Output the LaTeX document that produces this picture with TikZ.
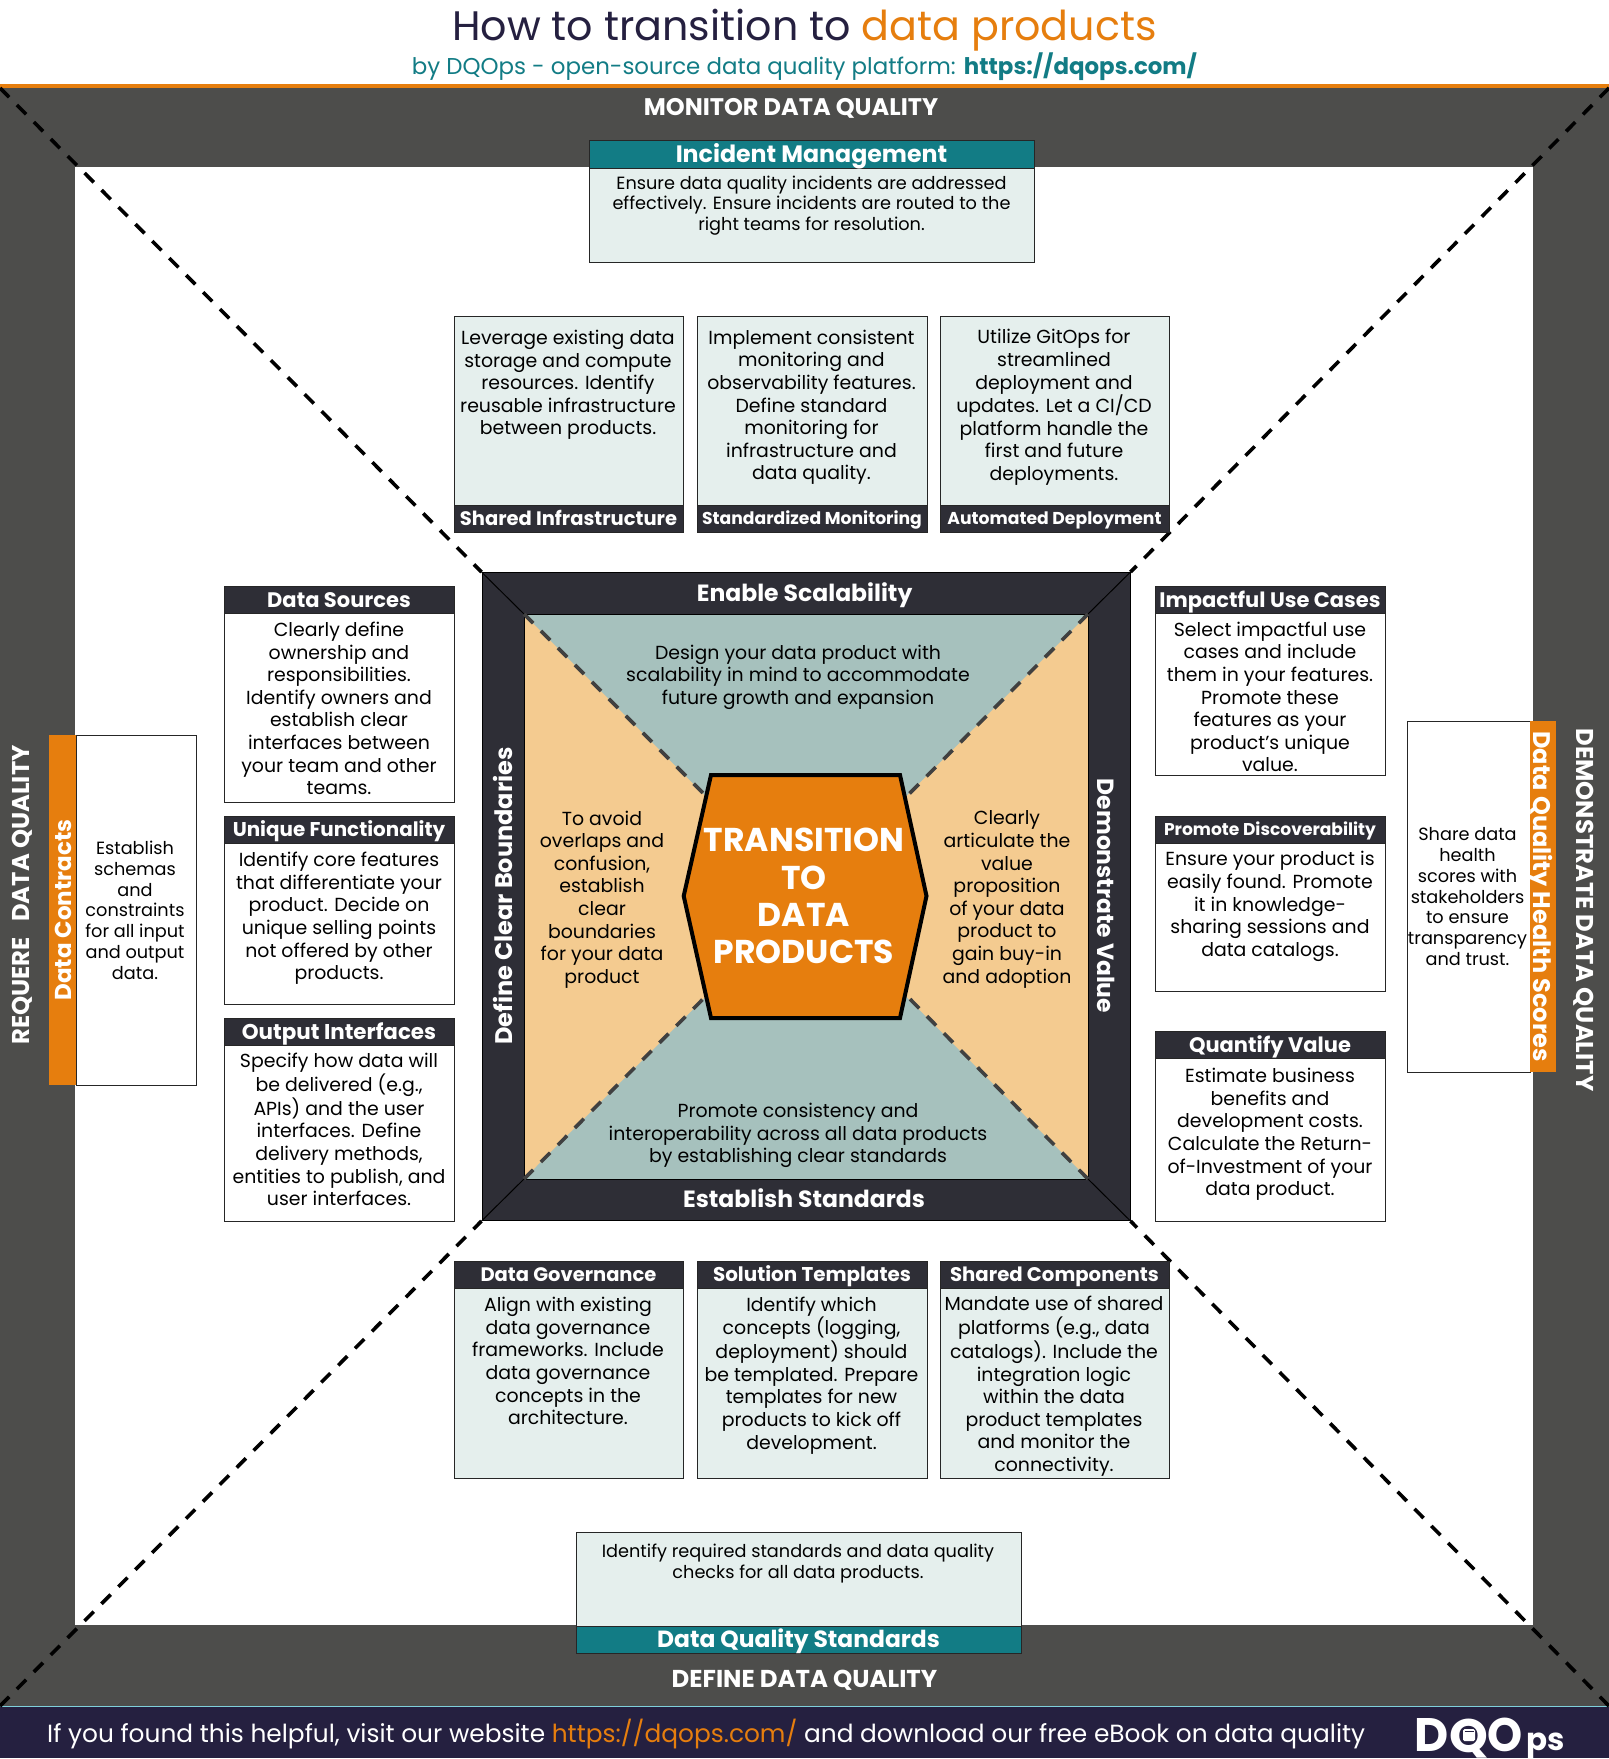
\documentclass[tikz,border=0pt]{standalone}
\usepackage{fontspec}
\setmainfont{Poppins}
\definecolor{navy}{HTML}{252040}
\definecolor{orng}{HTML}{E67E0E}
\definecolor{teal2}{HTML}{127C85}
\definecolor{cardbg}{HTML}{E5EFED}
\definecolor{band}{HTML}{4D4D4B}
\definecolor{inkbox}{HTML}{2E2E36}
\definecolor{triteal}{HTML}{A6C1BD}
\definecolor{triorng}{HTML}{F4CB90}
\definecolor{footline}{HTML}{7FD0DA}
\newcommand{\fsz}[2]{\fontsize{#1}{#2}\selectfont}
\newcommand{\pad}[1]{\vphantom{Ag}#1\vphantom{pg}}
\newcommand{\cardbody}[6]{\node[cardshape,fill=#6,minimum width={(#4-#2)*1pt},minimum height={(#5-#3)*1pt}] (#1) at ({(#2+#4)/2},{(#3+#5)/2}) {};}
\newcommand{\cardhead}[8]{\node[headshape,capline=#7,fill=#6,font=\bfseries\fsz{#7}{#7},minimum width={(#4-#2)*1pt},minimum height={(#5-#3)*1pt}] (#1) at ({(#2+#4)/2},{(#3+#5)/2}) {#8};}
\newcommand{\cardtext}[4]{\node[cardtxt] (#1) at (#2,#3) {\pad{#4}};}
\tikzset{
 cardshape/.style={draw=black!85,line width=0.9pt,inner sep=0pt,outer sep=0pt,rectangle},
 headshape/.style={draw=black!85,line width=0.9pt,inner sep=0pt,outer sep=0pt,rectangle,text=white},
 cardtxt/.style={align=center,inner sep=0pt,text=black,yshift=-2.5pt,font=\fsz{18.9}{22.6}},
 smalltxt/.style={align=center,inner sep=0pt,text=black,yshift=-2.5pt,font=\fsz{17.7}{20.8}},
 capline/.style={inner sep=0pt,text height={#1*0.72pt},text depth=0pt},
 bandlabel/.style={capline=#1,text=white,font=\bfseries\fsz{#1}{#1}},
 diagdash/.style={line width=3.6pt,draw=black,dash pattern=on 13pt off 11pt},
 innerdash/.style={line width=3.6pt,draw=black!75,dash pattern=on 13pt off 11pt},
}
\begin{document}
\begin{tikzpicture}[x=1pt,y=-1pt]
\useasboundingbox (0,0) rectangle (1609,1759);
\fill[white] (0,0) rectangle (1609,1759);
% band
\fill[band] (0,88) rectangle (1609,1706);
\fill[orng] (0,84) rectangle (1609,88);
\fill[navy] (0,1706) rectangle (1609,1758);
\draw[footline,line width=1pt] (0,1706) -- (1609,1706);
\fill[white] (75,167) rectangle (1533,1625);
% header
\node[capline=41.2,text=navy,font=\fsz{41.2}{41.2}] (title) at (804.5,25.5) {How to transition to \textcolor{orng}{data products}};
\node[capline=22.9,text=teal2,font=\fsz{22.9}{22.9}] (subtitle) at (804.5,66) {by DQOps - open-source data quality platform: \textbf{https://dqops.com/}};
% footer
\node[capline=24.85,anchor=west,text=white,font=\fsz{24.85}{24.85}] (footer) at (47,1733.5) {If you found this helpful, visit our website \textcolor{orng}{https://dqops.com/} and download our free eBook on data quality};
\node[capline=47,text=white,font=\bfseries\fsz{47}{47}] (logod) at (1432,1735) {D};
\node[capline=47,text=white,font=\bfseries\fsz{47}{47}] (logoq) at (1469,1736) {\scalebox{1.05}[1]{Q}};
\node[capline=47,text=white,font=\bfseries\fsz{47}{47}] (logoo) at (1505,1735) {\scalebox{0.95}[1]{O}};
\node[capline=31,text=white,font=\bfseries\fsz{31}{31}] (logop) at (1546,1739) {ps};
\fill[white,rounded corners=1.5pt] (1463,1729) rectangle (1475,1741);
\draw[navy,line width=0.7pt] (1464.5,1731.5) -- (1473.5,1731.5);
% band labels
\node[bandlabel=24] (mon) at (791,107) {MONITOR DATA QUALITY};
\node[bandlabel=24.4] (def) at (804.5,1679) {DEFINE DATA QUALITY};
\node[bandlabel=24.3,rotate=90] (req) at (21,895) {REQUERE\ \ \ DATA QUALITY};
\node[bandlabel=24.3,rotate=-90] (dem) at (1585.5,910) {DEMONSTRATE DATA QUALITY};
% central square
\node[draw=black,fill=inkbox,line width=1pt,inner sep=0pt,minimum width=648pt,minimum height=648pt] (sq) at (806,896.5) {};
\fill[triorng] (524,614) rectangle (1088,1179);
\fill[triteal] (524,614) -- (1088,614) -- (806,896.5) -- cycle;
\fill[triteal] (524,1179) -- (1088,1179) -- (806,896.5) -- cycle;
\coordinate (inTL) at (524,614); \coordinate (inTR) at (1088,614);
\coordinate (inBL) at (524,1179); \coordinate (inBR) at (1088,1179);
\draw[black,line width=1pt] (sq.north west) -- (inTL) (sq.north east) -- (inTR) (sq.south west) -- (inBL) (sq.south east) -- (inBR);
\draw[black,line width=0.6pt] (inTL) rectangle (inBR);
% dashes
\coordinate (cTL) at (0,88); \coordinate (cTR) at (1609,88);
\coordinate (cBL) at (0,1706); \coordinate (cBR) at (1609,1706);
\draw[diagdash] (cTL) -- (sq.north west);
\draw[diagdash] (cTR) -- (sq.north east);
\draw[diagdash] (cBL) -- (sq.south west);
\draw[diagdash] (cBR) -- (sq.south east);
\coordinate (hTL) at (705,795); \coordinate (hTR) at (908,795);
\coordinate (hBL) at (705,997); \coordinate (hBR) at (908,997);
\draw[innerdash] (inTL) -- (hTL);
\draw[innerdash] (inTR) -- (hTR);
\draw[innerdash] (inBL) -- (hBL);
\draw[innerdash] (inBR) -- (hBR);
% hexagon
\draw[black,fill=orng,line width=4pt,line join=miter] (711,775) -- (900,775) -- (926.5,896) -- (900,1018) -- (711,1018) -- (683.7,896) -- cycle;
\node[align=center,inner sep=0pt,text=white,yshift=-4.5pt,font=\bfseries\fsz{33}{37.3}] (hex) at (804,896) {\pad{TRANSITION\\TO\\DATA\\PRODUCTS}};
% square labels
\node[bandlabel=23.5] (es) at (804.6,592.7) {Enable Scalability};
\node[bandlabel=23.5] (est) at (804,1199.5) {Establish Standards};
\node[bandlabel=24,rotate=90] (dcb) at (504,896) {Define Clear Boundaries};
\node[bandlabel=23.4,rotate=-90] (dv) at (1106,896) {Demonstrate Value};
\node[cardtxt] (t1) at (798,674.5) {\pad{Design your data product with\\scalability in mind to accommodate\\future growth and expansion}};
\node[cardtxt] (t2) at (798,1133) {\pad{Promote consistency and\\interoperability across all data products\\by establishing clear standards}};
\node[cardtxt] (t3) at (602,897) {\pad{To avoid\\overlaps and\\confusion,\\establish\\clear\\boundaries\\for your data\\product}};
\node[cardtxt] (t4) at (1007,897) {\pad{Clearly\\articulate the\\value\\proposition\\of your data\\product to\\gain buy-in\\and adoption}};
% incident management
\cardbody{c1}{589}{140}{1034}{262}{cardbg}
\cardhead{c1h}{589}{140}{1034}{168}{teal2}{23.7}{Incident Management}
\node[smalltxt] (c1t) at (811.5,203) {\pad{Ensure data quality incidents are addressed\\effectively. Ensure incidents are routed to the\\right teams for resolution.}};
% upper row
\cardbody{c2}{454}{316}{683}{532}{cardbg}
\cardhead{c2h}{454}{505}{683}{532}{inkbox}{19.5}{Shared Infrastructure}
\cardtext{c2t}{568}{382.6}{Leverage existing data\\storage and compute\\resources. Identify\\reusable infrastructure\\between products.}
\cardbody{c3}{697}{316}{927}{532}{cardbg}
\cardhead{c3h}{697}{505}{927}{532}{inkbox}{17.2}{Standardized Monitoring}
\cardtext{c3t}{811.5}{405}{Implement consistent\\monitoring and\\observability features.\\Define standard\\monitoring for\\infrastructure and\\data quality.}
\cardbody{c4}{940}{316}{1169}{532}{cardbg}
\cardhead{c4h}{940}{505}{1169}{532}{inkbox}{17.2}{Automated Deployment}
\cardtext{c4t}{1054}{405}{Utilize GitOps for\\streamlined\\deployment and\\updates. Let a CI/CD\\platform handle the\\first and future\\deployments.}
% left column
\cardbody{c5}{224}{586}{454}{802}{white}
\cardhead{c5h}{224}{586}{454}{613}{inkbox}{21}{Data Sources}
\cardtext{c5t}{339}{708.5}{Clearly define\\ownership and\\responsibilities.\\Identify owners and\\establish clear\\interfaces between\\your team and other\\teams.}
\cardbody{c6}{224}{816}{454}{1004}{white}
\cardhead{c6h}{224}{816}{454}{843}{inkbox}{19.9}{Unique Functionality}
\cardtext{c6t}{339}{916}{Identify core features\\that differentiate your\\product. Decide on\\unique selling points\\not offered by other\\products.}
\cardbody{c7}{224}{1018}{454}{1221}{white}
\cardhead{c7h}{224}{1018}{454}{1045}{inkbox}{21.4}{Output Interfaces}
\cardtext{c7t}{339}{1129.5}{Specify how data will\\be delivered (e.g.,\\APIs) and the user\\interfaces. Define\\delivery methods,\\entities to publish, and\\user interfaces.}
% right column
\cardbody{c8}{1155}{586}{1385}{775}{white}
\cardhead{c8h}{1155}{586}{1385}{613}{inkbox}{21}{Impactful Use Cases}
\cardtext{c8t}{1270}{697}{Select impactful use\\cases and include\\them in your features.\\Promote these\\features as your\\product's unique\\value.}
\cardbody{c9}{1155}{816}{1385}{991}{white}
\cardhead{c9h}{1155}{816}{1385}{843}{inkbox}{17.1}{Promote Discoverability}
\cardtext{c9t}{1270}{904}{Ensure your product is\\easily found. Promote\\it in knowledge-\\sharing sessions and\\data catalogs.}
\cardbody{c10}{1155}{1031}{1385}{1221}{white}
\cardhead{c10h}{1155}{1031}{1385}{1058}{inkbox}{21}{Quantify Value}
\cardtext{c10t}{1270}{1132}{Estimate business\\benefits and\\development costs.\\Calculate the Return-\\of-Investment of your\\data product.}
% bottom row
\cardbody{c11}{454}{1261}{683}{1478}{cardbg}
\cardhead{c11h}{454}{1261}{683}{1288}{inkbox}{19.5}{Data Governance}
\cardtext{c11t}{568}{1361}{Align with existing\\data governance\\frameworks. Include\\data governance\\concepts in the\\architecture.}
\cardbody{c12}{697}{1261}{927}{1478}{cardbg}
\cardhead{c12h}{697}{1261}{927}{1288}{inkbox}{19.9}{Solution Templates}
\cardtext{c12t}{811.5}{1373}{Identify which\\concepts (logging,\\deployment) should\\be templated. Prepare\\templates for new\\products to kick off\\development.}
\cardbody{c13}{940}{1261}{1169}{1478}{cardbg}
\cardhead{c13h}{940}{1261}{1169}{1288}{inkbox}{19.7}{Shared Components}
\cardtext{c13t}{1054}{1384}{Mandate use of shared\\platforms (e.g., data\\catalogs). Include the\\integration logic\\within the data\\product templates\\and monitor the\\connectivity.}
% data quality standards
\cardbody{c14}{576}{1532}{1021}{1653}{cardbg}
\cardhead{c14h}{576}{1626}{1021}{1653}{teal2}{23.4}{Data Quality Standards}
\node[smalltxt] (c14t) at (798,1561) {\pad{Identify required standards and data quality\\checks for all data products.}};
% data contracts
\cardbody{c15}{76}{735}{196}{1085}{white}
\node[draw=none,fill=orng,inner sep=0pt,minimum width=27pt,minimum height=350pt] (c15h) at (62.5,910) {};
\node[bandlabel=23,rotate=90] (c15l) at (63,910) {Data Contracts};
\node[smalltxt] (c15t) at (135,910) {\pad{Establish\\schemas\\and\\constraints\\for all input\\and output\\data.}};
% health scores
\cardbody{c16}{1407}{721}{1530}{1072}{white}
\node[draw=none,fill=orng,inner sep=0pt,minimum width=26pt,minimum height=351pt] (c16h) at (1543,896.5) {};
\node[bandlabel=24,rotate=-90] (c16l) at (1542,896.5) {Data Quality Health Scores};
\node[smalltxt] (c16t) at (1467.5,896.5) {\pad{Share data\\health\\scores with\\stakeholders\\to ensure\\transparency\\and trust.}};
\end{tikzpicture}
\end{document}
